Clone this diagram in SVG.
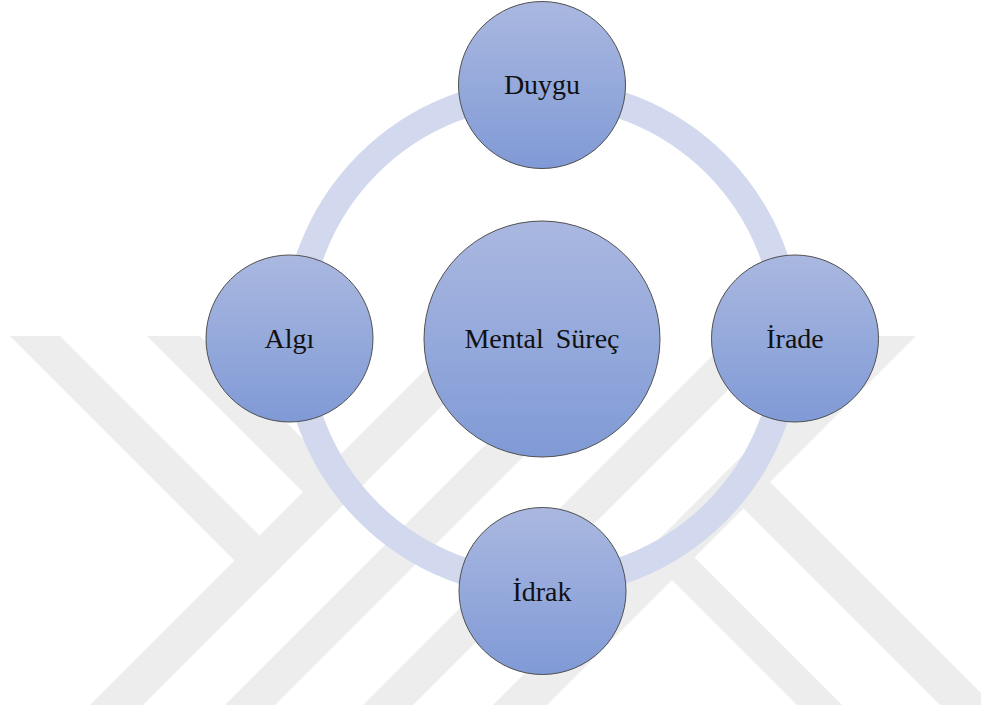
<svg xmlns="http://www.w3.org/2000/svg" width="981" height="711" viewBox="0 0 981 711">
  <defs>
    <linearGradient id="nodeFill" x1="0" y1="0" x2="0" y2="1">
      <stop offset="0" stop-color="#aab8e0"/>
      <stop offset="1" stop-color="#809ad6"/>
    </linearGradient>
    <clipPath id="wmClip">
      <rect x="0" y="336" width="981" height="369"/>
    </clipPath>
  </defs>
  <style>
    .wm { fill: #ededed; }
    .node { fill: url(#nodeFill); stroke: #505050; stroke-width: 1; }
    .label { font-family: "Liberation Serif", "Times New Roman", serif; font-size: 28px; fill: #111; text-anchor: middle; }
    .ring { fill: none; stroke: #d2d9ee; stroke-width: 27; }
  </style>
  <rect x="0" y="0" width="981" height="711" fill="#ffffff"/>
  <g id="watermark" clip-path="url(#wmClip)">
    <polygon class="wm" points="90,705 143,705 512,336 459,336"/>
    <polygon class="wm" points="225,705 275,705 644,336 594,336"/>
    <polygon class="wm" points="363,705 413,705 782,336 732,336"/>
    <polygon class="wm" points="493,705 547,705 916,336 862,336"/>
    <polygon class="wm" points="10,336 60,336 286,562 261,587"/>
    <polygon class="wm" points="147,336 200,336 356,492 329.5,518.5"/>
    <polygon class="wm" points="645,553 667.5,530.5 842,705 797,705"/>
    <polygon class="wm" points="716.5,481.5 743,455 993,705 940,705"/>
  </g>
  <g id="connectors">
    <circle class="ring" cx="542" cy="338" r="246"/>
  </g>
  <g id="node-mental">
    <circle class="node" cx="542" cy="339" r="118"/>
    <text class="label" x="542" y="348" word-spacing="5">Mental Süreç</text>
  </g>
  <g id="node-duygu">
    <circle class="node" cx="542" cy="85" r="83.5"/>
    <text class="label" x="542" y="94">Duygu</text>
  </g>
  <g id="node-algi">
    <circle class="node" cx="289.5" cy="338.5" r="83.5"/>
    <text class="label" x="289.5" y="348">Algı</text>
  </g>
  <g id="node-irade">
    <circle class="node" cx="795" cy="338.5" r="83.5"/>
    <text class="label" x="795" y="348">İrade</text>
  </g>
  <g id="node-idrak">
    <circle class="node" cx="542.5" cy="591" r="83.5"/>
    <text class="label" x="542" y="601">İdrak</text>
  </g>
</svg>
